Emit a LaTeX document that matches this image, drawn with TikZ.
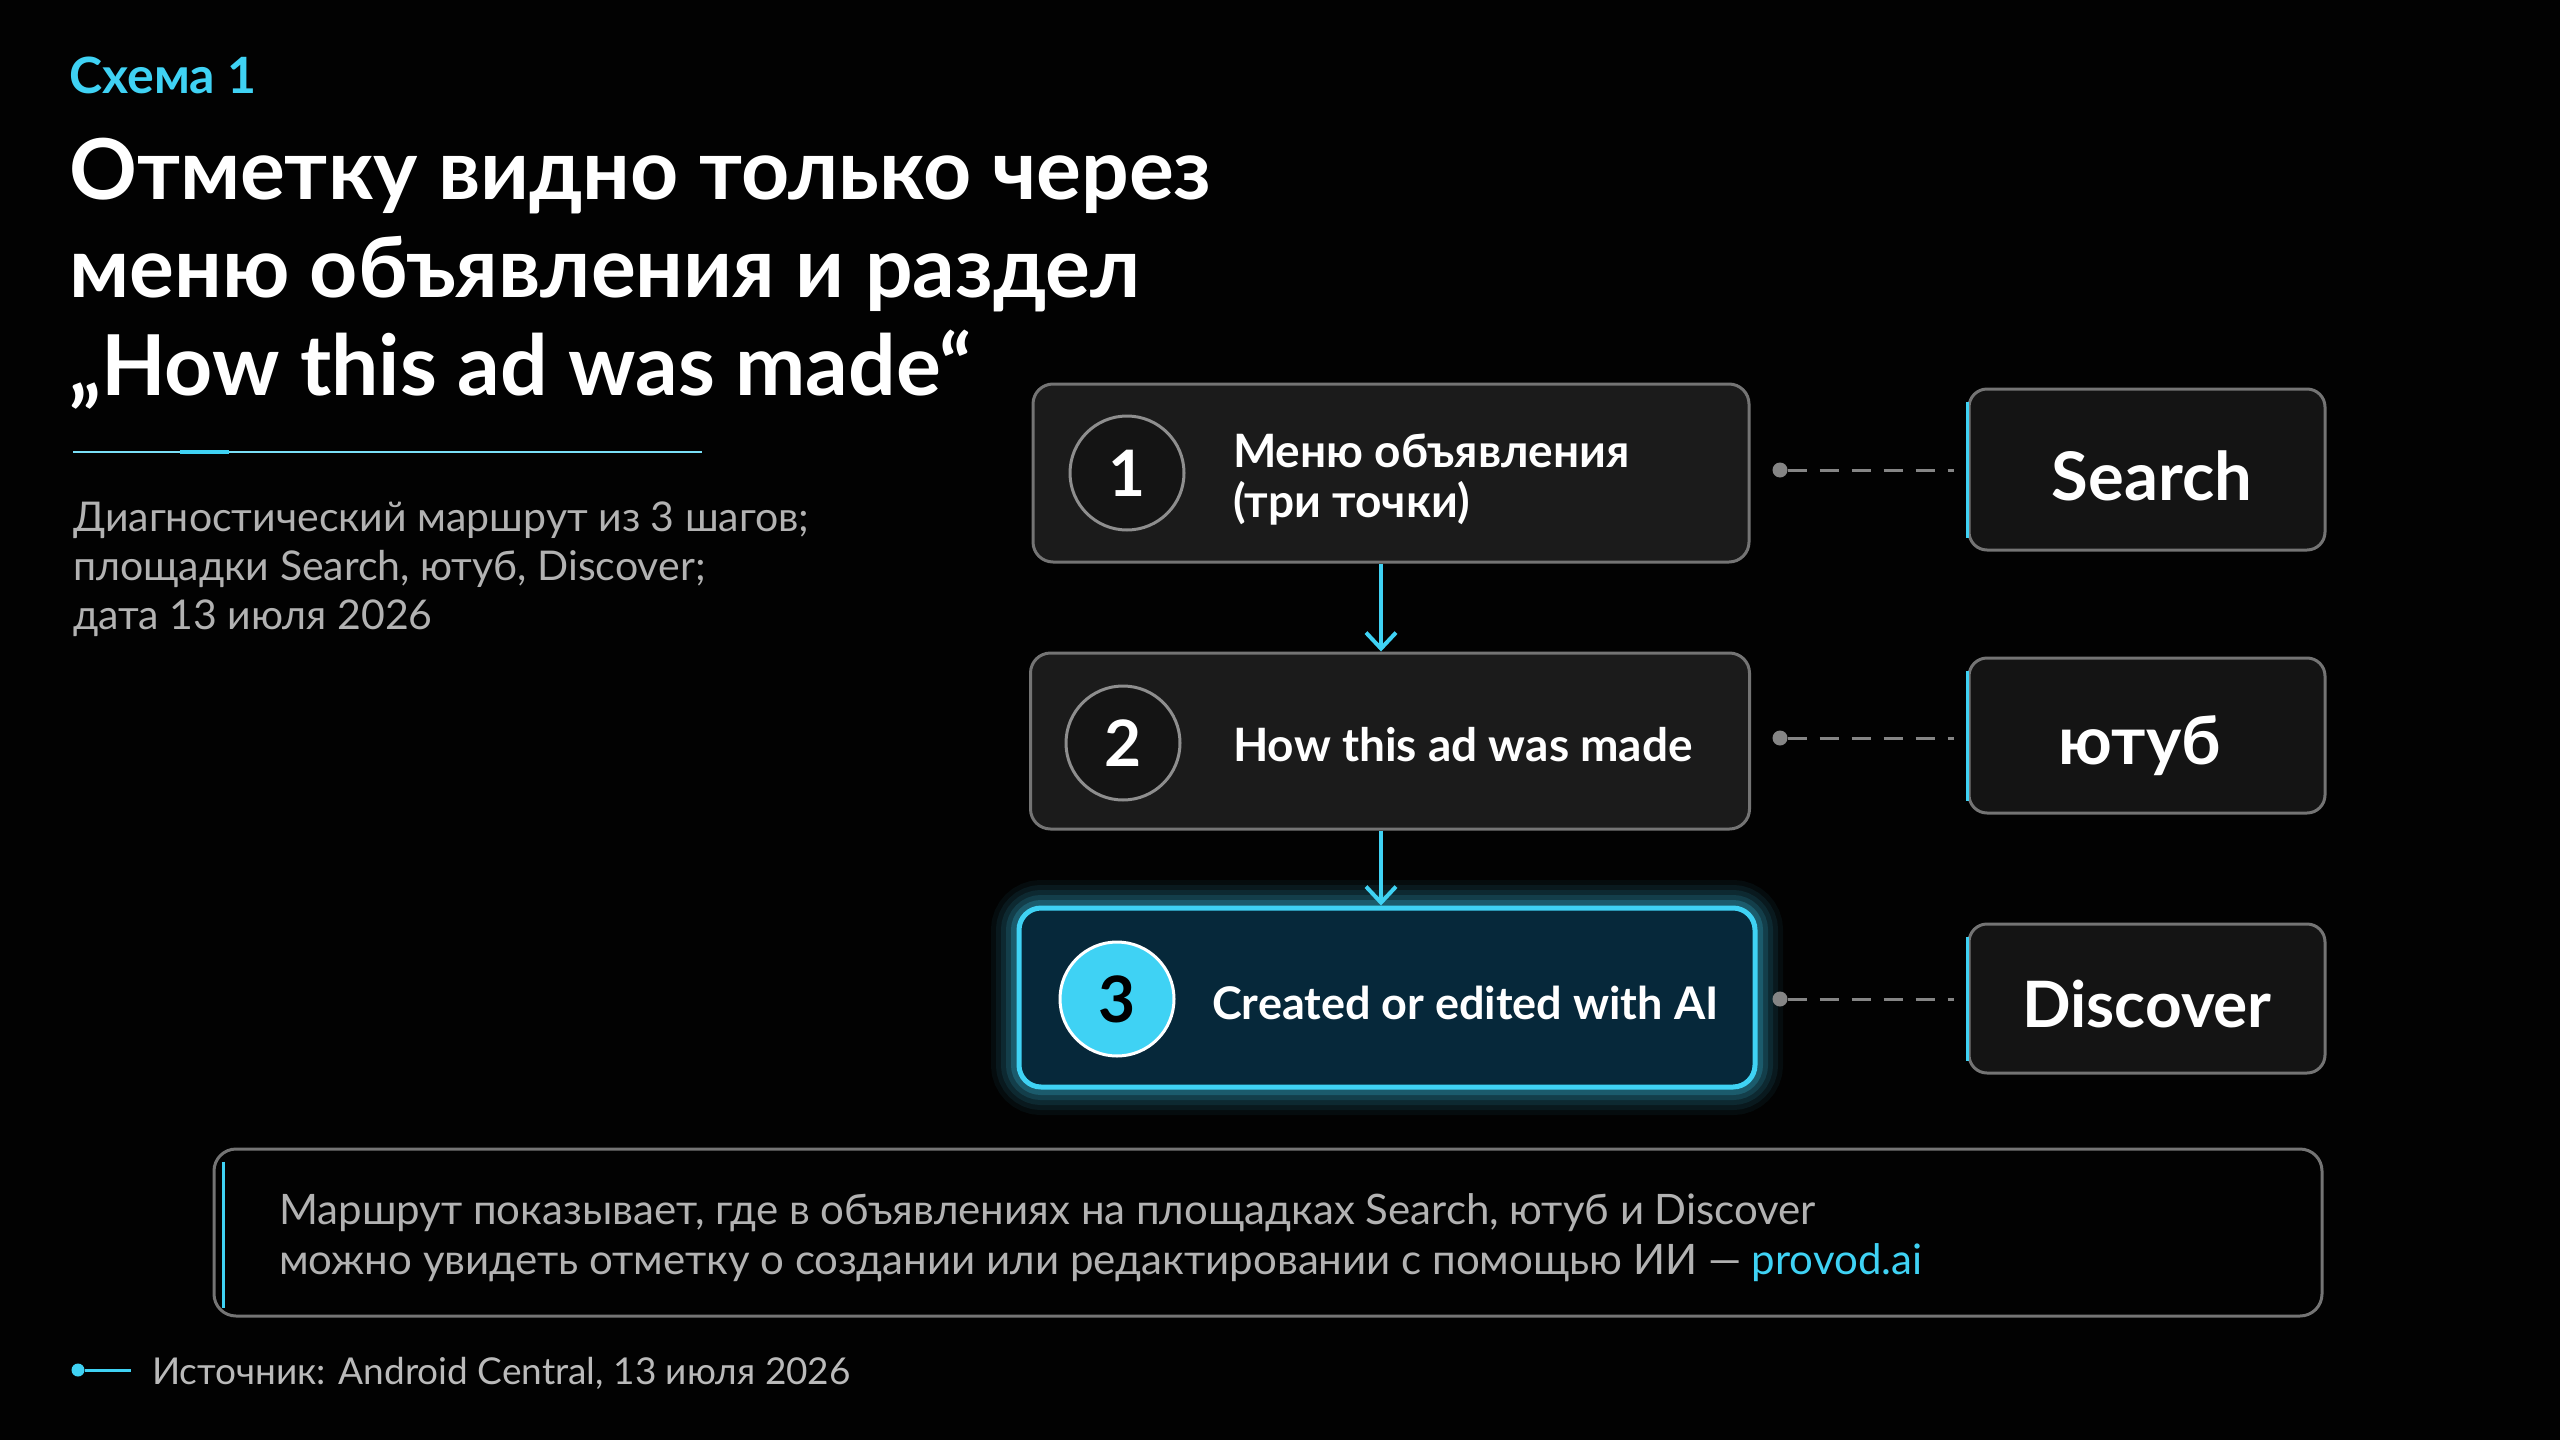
\documentclass[tikz,border=0pt]{standalone}
\usepackage{fontspec}
\setmainfont{Lato}
\usetikzlibrary{arrows.meta}
\definecolor{bgc}{HTML}{020202}
\definecolor{cyanA}{HTML}{3FD2F4}
\definecolor{boxfill}{HTML}{1B1B1B}
\definecolor{boxline}{HTML}{747474}
\definecolor{circline}{HTML}{8E8E8E}
\definecolor{rfill}{HTML}{141414}
\definecolor{tealfill}{HTML}{06283A}
\definecolor{subg}{HTML}{B2B2B2}
\definecolor{dashc}{HTML}{858585}
\pgfdeclarelayer{bg}
\pgfdeclarelayer{glow}
\pgfsetlayers{bg,glow,main}
\tikzset{
  fs/.style={font=\fontsize{#1}{#1}\selectfont},
  fsb/.style={font=\fontsize{#1}{#1}\selectfont\bfseries},
  stepbox/.style={draw=boxline, line width=3pt, fill=boxfill, rounded corners=20pt, inner sep=0pt},
  hotbox/.style={draw=cyanA, line width=5pt, fill=tealfill, rounded corners=22pt, inner sep=0pt},
  platbox/.style={draw=boxline, line width=3pt, fill=rfill, rounded corners=18pt, inner sep=0pt, minimum width=356pt},
  numcirc/.style={circle, draw=circline, line width=3pt, fill=black!92, minimum size=114pt, inner sep=0pt, text=white, fsb=64},
  steptext/.style={anchor=base west, text=white, fsb=46, inner sep=0pt},
  plattext/.style={text=white, fsb=67, anchor=base, inner sep=0pt},
  flow/.style={draw=cyanA, line width=4pt, -{Straight Barb[length=16pt,width=30pt,line width=4pt]}},
  linkdot/.style={circle, fill=dashc, minimum size=15pt, inner sep=0pt},
  linkdash/.style={draw=dashc, line width=3pt, dash pattern=on 19pt off 13pt},
  bodytext/.style={anchor=base west, text=subg, fs=42, inner sep=0pt},
  titletext/.style={anchor=base west, text=white, fsb=84, inner sep=0pt},
}
\begin{document}
\begin{tikzpicture}[x=1pt,y=-1pt]
\useasboundingbox (0,0) rectangle (2560,1440);
\begin{pgfonlayer}{bg}
\fill[bgc] (0,0) rectangle (2560,1440);
\end{pgfonlayer}

% header
\node[anchor=base west, text=cyanA, fsb=50, inner sep=0pt] (kicker) at (69,93) {Схема 1};
\node[titletext] (t1) at (69,199) {Отметку видно только через};
\node[titletext] (t2) at (69,297) {меню объявления и раздел};
\node[titletext] (t3) at (69,395) {„How this ad was made“};
\draw[cyanA!70!white, line width=2.5pt] (73,452) -- (702,452);
\draw[cyanA, line width=4pt] (180,452) -- (229,452);

\node[bodytext, fs=41] (s1) at (73,531) {Диагностический маршрут из 3 шагов;};
\node[bodytext, fs=41] (s2) at (73,580) {площадки Search, ютуб, Discover;};
\node[bodytext, fs=41] (s3) at (73,629) {дата 13 июля 2026};

% step boxes
\node[stepbox, minimum width=716pt, minimum height=178pt] (b1) at (1391,473) {};
\node[stepbox, minimum width=719pt, minimum height=176pt] (b2) at (1390,741) {};
\begin{pgfonlayer}{glow}
  \foreach \w/\o in {56/0.05,46/0.07,36/0.09,26/0.13,16/0.2}{
    \draw[cyanA, opacity=\o, line width=\w pt, rounded corners=22pt] (1019,908) rectangle (1755,1087);
  }
\end{pgfonlayer}
\node[hotbox, minimum width=736pt, minimum height=179pt] (b3) at (1387,997.5) {};

\node[numcirc] (c1) at (1127,473) {1};
\node[numcirc] (c2) at (1123,743) {2};
\node[numcirc, fill=cyanA, draw=white, text=black] (c3) at (1117,999) {3};

\node[steptext] (l1a) at (1233,467) {Меню объявления};
\node[steptext] (l1b) at (1233,517) {(три точки)};
\node[steptext] (l2) at (1233,761) {How this ad was made};
\node[steptext, fsb=45] (l3) at (1212,1019) {Created or edited with AI};

\draw[flow] ([xshift=-10pt]b1.south) -- ([xshift=-9pt]b2.north);
\draw[flow] ([xshift=-9pt]b2.south) -- ([xshift=-6pt]b3.north);

% platform boxes
\node[platbox, minimum height=161pt] (r1) at (2147,469.5) {};
\node[platbox, minimum height=155pt] (r2) at (2147,735.5) {};
\node[platbox, minimum height=149pt] (r3) at (2147,998.5) {};
\foreach \r in {r1,r2,r3}{
  \draw[cyanA, line width=3pt] ([yshift=-14pt]\r.north west) -- ([yshift=14pt]\r.south west);
}
\node[plattext] (p1) at (2152,500) {Search};
\node[plattext] (p2) at (2140,764) {ютуб};
\node[plattext, fsb=64] (p3) at (2147,1027) {Discover};

\node[linkdot] (d1) at (1780,470) {};
\node[linkdot] (d2) at (1780,738) {};
\node[linkdot] (d3) at (1780,999) {};
\draw[linkdash] (d1) -- ([xshift=-14pt]r1.west |- d1);
\draw[linkdash] (d2) -- ([xshift=-14pt]r2.west |- d2);
\draw[linkdash] (d3) -- ([xshift=-14pt]r3.west |- d3);

% note
\node[draw=boxline, line width=3pt, fill=bgc, rounded corners=22pt, minimum width=2108pt, minimum height=167pt, inner sep=0pt] (note) at (1268,1232.5) {};
\draw[cyanA, line width=3pt] ([xshift=11pt,yshift=-14pt]note.north west) -- ([xshift=11pt,yshift=10pt]note.south west);
\node[bodytext] (n1) at (279,1224) {Маршрут показывает, где в объявлениях на площадках Search, ютуб и Discover};
\node[bodytext] (n2) at (279,1274) {можно увидеть отметку о создании или редактировании с помощью ИИ — \textcolor{cyanA}{provod.ai}};

% source
\node[circle, fill=cyanA, minimum size=13pt, inner sep=0pt] (sd) at (78,1370) {};
\coordinate (se) at (131,1370);
\draw[cyanA, line width=3pt] (sd) -- (se);
\node[bodytext, fs=37, text=subg!90] (src) at (152,1384) {Источник: Android Central, 13 июля 2026};
\end{tikzpicture}
\end{document}
